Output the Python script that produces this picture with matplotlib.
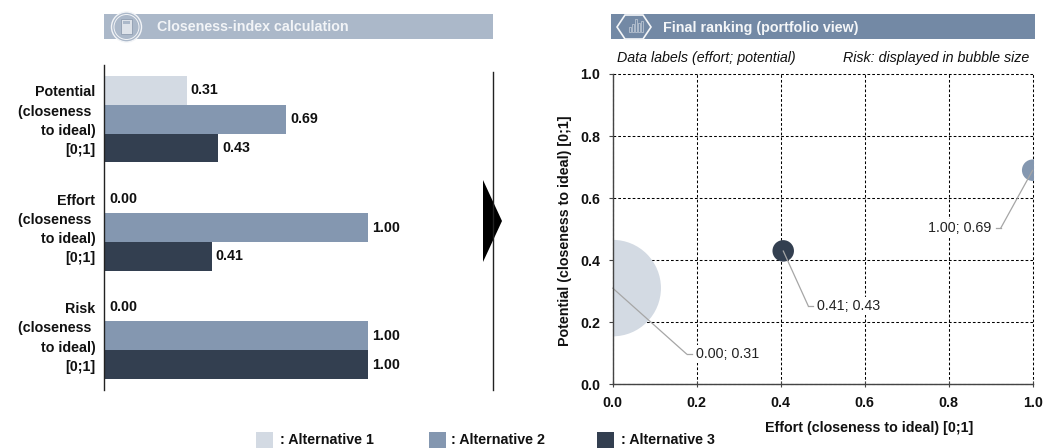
import matplotlib
matplotlib.use("Agg")
import matplotlib.pyplot as plt
from matplotlib.transforms import ScaledTranslation
import numpy as np
from matplotlib.patches import Circle, Polygon, Rectangle

plt.rcParams['font.family'] = ['Liberation Sans', 'DejaVu Sans']

W, H = 1059, 448

categories = ["Potential\n(closeness \nto ideal)\n[0;1]",
              "Effort\n(closeness \nto ideal)\n[0;1]",
              "Risk\n(closeness \nto ideal)\n[0;1]"]
alternatives = [": Alternative 1", ": Alternative 2", ": Alternative 3"]
colors = ["#D3DAE3", "#8497B0", "#333F50"]
potential = [0.31, 0.69, 0.43]
effort = [0.00, 1.00, 0.406]
risk = [0.00, 1.00, 1.00]
bubble_diam_px = [96.5, 21.5, 21.5]
label_elbows = [(74, -66), (-32, -58), (25, -55)]
ticks = [0.0, 0.2, 0.4, 0.6, 0.8, 1.0]
FS = 10.3

fig = plt.figure(figsize=(W / 100, H / 100), dpi=100)


def axes_px(x0, y0, x1, y1, **kw):
    return fig.add_axes([x0 / W, 1 - y1 / H, (x1 - x0) / W, (y1 - y0) / H], **kw)


# overlay in pixel coordinates for the page furniture
bg = axes_px(0, 0, W, H)
bg.set_xlim(0, W)
bg.set_ylim(H, 0)
bg.axis("off")

bg.add_patch(Rectangle((104, 14), 389, 25, fc="#ABB8C9", ec="none"))
bg.add_patch(Rectangle((611, 14), 424, 25, fc="#7389A5", ec="none"))
bg.text(157, 27, "Closeness-index calculation", color="#F2F4F7", fontsize=FS,
        fontweight="bold", va="center", ha="left")
bg.text(663, 28, "Final ranking (portfolio view)", color="#F4F6F8", fontsize=FS,
        fontweight="bold", va="center", ha="left")

# calculator icon
bg.add_patch(Circle((126.5, 27), 15, fc="#ABB8C9", ec="#F2F4F7", lw=1.0))
bg.add_patch(Circle((126.5, 27), 12.5, fc="#ABB8C9", ec="#F2F4F7", lw=0.7))
bg.add_patch(Rectangle((121, 19), 11, 15.5, fc="#DDE2E9", ec="#8F9DB0", lw=0.6))
bg.add_patch(Rectangle((123, 21), 7, 3, fc="#ABB8C9", ec="none"))
# chart icon in hexagon
bg.add_patch(Polygon([(617, 27), (625, 15), (643, 15), (651, 27), (643, 39), (625, 39)],
                     fc="#7389A5", ec="#F4F6F8", lw=1.2))
for bx, bh in zip([628.5, 631.5, 634.5, 637.5, 640.5], [5, 8, 13, 9, 11]):
    bg.add_patch(Rectangle((bx, 32 - bh), 2, bh, fc="#7389A5", ec="#C5CEDA", lw=0.5))

# arrow and right-hand rule
bg.add_patch(Polygon([(483, 180), (502, 221), (483, 262)], fc="black", ec="none"))
bg.plot([493, 493], [72, 390], color="#222222", lw=1.0)

# legend
for lx, tx, c, t in zip([256, 429, 597], [280, 451, 621], colors, alternatives):
    bg.add_patch(Rectangle((lx, 432), 17, 16, fc=c, ec="none"))
    bg.text(tx, 440, t, fontsize=FS, fontweight="bold", va="center", ha="left", color="#111111")

# closeness bars
ax = axes_px(105, 65, 368, 390)
ax.patch.set_alpha(0)
ax.set_xlim(0, 1)
ax.set_ylim(2.5, -0.5)
values = np.array([potential, effort, risk])
bar_h = 0.265
for j, c in enumerate(colors):
    ypos = np.arange(3) + (j - 1) * bar_h
    ax.barh(ypos, values[:, j], height=bar_h, color=c, zorder=2)
    for y, v in zip(ypos, values[:, j]):
        ax.annotate(f"{v:.2f}", xy=(v, y), xytext=(4, 0), textcoords="offset pixels",
                    va="center", ha="left", fontsize=FS, fontweight="bold", color="#111111")
for s in ["top", "right", "bottom"]:
    ax.spines[s].set_visible(False)
ax.spines["left"].set_color("#222222")
ax.spines["left"].set_linewidth(1.0)
ax.spines["left"].set_position(("outward", 0.5))
ax.set_xticks([])
ax.set_yticks(range(3))
ax.set_yticklabels(categories, fontsize=FS, fontweight="bold", ha="right",
                   linespacing=1.47, color="#111111")
ax.tick_params(axis="y", length=0, pad=6.5)
for lab in ax.get_yticklabels():
    lab.set_transform(lab.get_transform() + ScaledTranslation(0, 2 / 100, fig.dpi_scale_trans))

# portfolio bubbles
sc = axes_px(612.7, 74, 1032.7, 384.3)
sc.set_xlim(0, 1)
sc.set_ylim(0, 1)
sc.set_xticks(ticks)
sc.set_yticks(ticks)
sc.set_xticklabels([f"{t:.1f}" for t in ticks], fontsize=FS, fontweight="bold", color="#111111")
sc.set_yticklabels([f"{t:.1f}" for t in ticks], fontsize=FS, fontweight="bold", color="#111111")
sc.grid(True, color="black", lw=0.75, linestyle=(0, (2.6, 2.0)), zorder=1)
for gl in sc.get_xgridlines() + sc.get_ygridlines():
    gl.set_clip_on(False)
sc.set_axisbelow(True)
sc.spines["top"].set_visible(False)
sc.spines["right"].set_visible(False)
for s in ["left", "bottom"]:
    sc.spines[s].set_color("#444444")
    sc.spines[s].set_linewidth(1.0)
    sc.spines[s].set_zorder(6)
sc.tick_params(axis="y", direction="out", length=3, width=0.8, color="#444444", pad=6)
sc.tick_params(axis="x", direction="inout", length=5, width=0.8, color="#444444", pad=6)
sc.set_xlabel("Effort (closeness to ideal) [0;1]", fontsize=FS, fontweight="bold", color="#111111")
sc.xaxis.set_label_coords((869 - 612.7) / 420, -(421 - 384.3) / 310.3)
sc.set_ylabel("Potential (closeness to ideal) [0;1]", fontsize=FS, fontweight="bold", color="#111111")
sc.yaxis.set_label_coords(-(612.7 - 572) / 420, 0.496)

sizes = [(d * 0.72) ** 2 for d in bubble_diam_px]
bubbles = sc.scatter(effort, potential, s=sizes, c=colors, linewidths=0, zorder=3)
bubbles.set_clip_path(Rectangle((0, 0), 1.004, 1, transform=sc.transData))

leader = dict(arrowstyle="-", color="#A6A6A6", lw=0.9, shrinkA=0, shrinkB=0)
for x, y, (dx, dy) in zip(effort, potential, label_elbows):
    sign = 1 if dx > 0 else -1
    sc.annotate("", xy=(x, y), xytext=(dx, dy), textcoords="offset pixels",
                arrowprops=leader, zorder=4, annotation_clip=False)
    px, py = sc.transData.transform((x, y))
    bx, by = sc.transData.inverted().transform([(px + dx, py + dy), (px + dx + sign * 5, py + dy)]).T
    sc.plot(bx, by, color="#A6A6A6", lw=0.9, zorder=4, clip_on=False)
    sc.annotate(f"{x:.2f}; {y:.2f}", xy=(x, y), xytext=(dx + sign * 9, dy),
                textcoords="offset pixels", fontsize=FS, color="#222222",
                va="center", ha="left" if sign > 0 else "right", zorder=5,
                bbox=dict(fc="white", ec="none", pad=1.5), annotation_clip=False)

bg.text(617, 58, "Data labels (effort; potential)", fontsize=FS, style="italic",
        va="center", ha="left", color="#111111")
bg.text(1029, 58, "Risk: displayed in bubble size", fontsize=FS, style="italic",
        va="center", ha="right", color="#111111")

fig.savefig("out.png", dpi=100)
